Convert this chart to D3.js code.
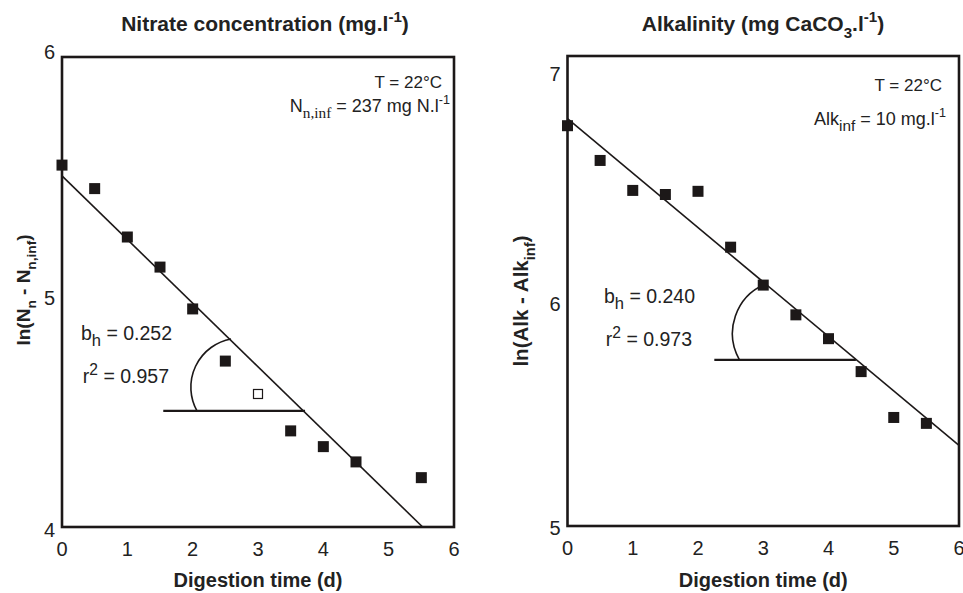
<!DOCTYPE html>
<html>
<head>
<meta charset="utf-8">
<script src="https://cdn.jsdelivr.net/npm/d3@7"></script>
<style>
  body { margin: 0; background: #fff; }
  svg { display: block; font-family: "Liberation Sans", Arial, sans-serif; }
</style>
</head>
<body>
<svg id="chart" width="963" height="593"></svg>
<script>
// Données
const xTicks = [0, 1, 2, 3, 4, 5, 6];

// Nitrate
const nitrateDays = [0, 0.5, 1, 1.5, 2, 2.5, 3.5, 4, 4.5, 5.5];
const nitrateLn = [5.54, 5.44, 5.234, 5.106, 4.928, 4.706, 4.409, 4.342, 4.277, 4.21];
const nitrateOpenDays = [3];
const nitrateOpenLn = [4.566];
const nitrateFitDays = [0, 5.52];
const nitrateFitLn = [5.494, 4.0];
const nitrateRefDays = [1.55, 3.72];
const nitrateRefLn = [4.494, 4.494];
const nitrateArcDays = [2.587, 2.066];
const nitrateArcLn = [4.8, 4.494];
const nitrateYTicks = [4, 5, 6];

// Alcalinité
const alkDays = [0, 0.5, 1, 1.5, 2, 2.5, 3, 3.5, 4, 4.5, 5, 5.5];
const alkLn = [6.763, 6.61, 6.478, 6.46, 6.474, 6.228, 6.061, 5.93, 5.825, 5.68, 5.478, 5.452];
const alkFitDays = [0, 6];
const alkFitLn = [6.794, 5.355];
const alkRefDays = [2.25, 4.42];
const alkRefLn = [5.732, 5.732];
const alkArcDays = [3.035, 2.635];
const alkArcLn = [6.066, 5.732];
const alkYTicks = [5, 6, 7];

const svg = d3.select('#chart');
const ink = '#1c1818';

// Texte avec indices / exposants
function rich(sel, parts, size) {
    let shift = 0;
    parts.forEach(([str, kind, family, scale]) => {
        const target = kind === 'sub' ? size * 0.32 : kind === 'sup' ? -size * 0.42 : 0;
        const t = sel.append('tspan').text(str).attr('dy', target - shift);
        if (kind === 'sub' || kind === 'sup') t.attr('font-size', size * (scale || 0.72));
        if (family) t.attr('font-family', family);
        shift = target;
    });
    return sel;
}

function zip(xs, ys) {
    return xs.map((x, i) => ({ x: x, y: ys[i] }));
}

function drawPanel(p) {
    const x = d3.scaleLinear().domain([0, 6]).range(p.xRange);
    const y = d3.scaleLinear().domain(p.yDomain).range(p.yRange);
    const g = svg.append('g');
    const line = d3.line().x(d => x(d.x)).y(d => y(d.y));

    // titre
    rich(g.append('text')
        .attr('x', p.titleX).attr('y', 31)
        .attr('text-anchor', 'middle')
        .attr('font-size', 21).attr('font-weight', 'bold').attr('fill', '#222'),
        p.title, 21);

    // graduations
    g.selectAll('.xt').data(xTicks).enter().append('text')
        .attr('x', d => x(d)).attr('y', p.yRange[0] + 29)
        .attr('text-anchor', 'middle').attr('font-size', 20).attr('fill', '#222')
        .text(d => d);
    g.selectAll('.yt').data(p.yTicks).enter().append('text')
        .attr('x', p.xRange[0] - 7).attr('y', (d, i) => y(d) + p.yTickDy[i])
        .attr('text-anchor', 'end').attr('font-size', 20).attr('fill', '#222')
        .text(d => d);

    // titres des axes
    g.append('text')
        .attr('x', (p.xRange[0] + p.xRange[1]) / 2).attr('y', 587)
        .attr('text-anchor', 'middle').attr('font-size', 20).attr('font-weight', 'bold').attr('fill', '#222')
        .text('Digestion time (d)');
    rich(g.append('text')
        .attr('transform', `translate(${p.yTitleX},${p.yTitleY}) rotate(-90)`)
        .attr('text-anchor', 'middle').attr('font-size', p.yTitleSize).attr('font-weight', 'bold').attr('fill', '#222'),
        p.yTitle, p.yTitleSize);

    // droite de régression
    g.append('path').datum(zip(p.fitX, p.fitY))
        .attr('d', line).attr('fill', 'none').attr('stroke', ink).attr('stroke-width', 1.6);
    // ligne horizontale
    g.append('path').datum(zip(p.refX, p.refY))
        .attr('d', line).attr('fill', 'none').attr('stroke', ink).attr('stroke-width', 2.2);
    // arc d'angle
    const a0 = [x(p.arcX[0]), y(p.arcY[0])];
    const a1 = [x(p.arcX[1]), y(p.arcY[1])];
    g.append('path')
        .attr('d', `M${a0[0]},${a0[1]} A${p.arcR},${p.arcR} 0 0 0 ${a1[0]},${a1[1]}`)
        .attr('fill', 'none').attr('stroke', ink).attr('stroke-width', 1.6);

    // points
    g.selectAll('.pt').data(zip(p.ptsX, p.ptsY)).enter().append('rect')
        .attr('x', d => x(d.x) - 5.5).attr('y', d => y(d.y) - 5.5)
        .attr('width', 11).attr('height', 11).attr('fill', ink);
    g.selectAll('.op').data(zip(p.openX, p.openY)).enter().append('rect')
        .attr('x', d => x(d.x) - 4.5).attr('y', d => y(d.y) - 4.5)
        .attr('width', 9).attr('height', 9).attr('fill', '#fff')
        .attr('stroke', ink).attr('stroke-width', 1.2);

    // cadre
    g.append('rect')
        .attr('x', p.xRange[0]).attr('y', p.yRange[1])
        .attr('width', p.xRange[1] - p.xRange[0]).attr('height', p.yRange[0] - p.yRange[1])
        .attr('fill', 'none').attr('stroke', ink).attr('stroke-width', 2.6);

    // annotations
    g.append('text')
        .attr('x', p.tX).attr('y', p.tY)
        .attr('text-anchor', 'end').attr('font-size', 17).attr('fill', '#222')
        .text('T = 22°C');
    rich(g.append('text')
        .attr('x', p.infX).attr('y', p.infY)
        .attr('text-anchor', 'end').attr('font-size', 18).attr('fill', '#222'),
        p.infText, 18);
    rich(g.append('text')
        .attr('x', p.statX).attr('y', p.bY)
        .attr('text-anchor', 'end').attr('font-size', 19.5).attr('fill', '#222'),
        [['b'], ['h', 'sub', null, 0.85], [' = ' + p.bh]], 19.5);
    rich(g.append('text')
        .attr('x', p.statX - 3).attr('y', p.rY)
        .attr('text-anchor', 'end').attr('font-size', 19.5).attr('fill', '#222'),
        [['r'], ['2', 'sup', null, 0.8], [' = ' + p.r2]], 19.5);
}

drawPanel({
    xRange: [62, 454], yRange: [527, 57], yDomain: [4, 6], yTicks: nitrateYTicks, yTickDy: [10, 13, 2],
    titleX: 265, title: [['Nitrate concentration (mg.l'], ['-1', 'sup'], [')']],
    yTitleX: 30, yTitleY: 290, yTitleSize: 19,
    yTitle: [['ln(N'], ['n', 'sub'], [' - N'], ['n,inf', 'sub'], [')']],
    ptsX: nitrateDays, ptsY: nitrateLn, openX: nitrateOpenDays, openY: nitrateOpenLn,
    fitX: nitrateFitDays, fitY: nitrateFitLn, refX: nitrateRefDays, refY: nitrateRefLn,
    arcX: nitrateArcDays, arcY: nitrateArcLn, arcR: 49,
    tX: 442, tY: 88, infX: 450, infY: 112,
    infText: [['N'], ['n,inf', 'sub', 'Liberation Serif', 0.85], [' = 237 mg N.l'], ['-1', 'sup', null, 0.7]],
    statX: 172, bY: 340, rY: 383, bh: '0.252', r2: '0.957'
});

drawPanel({
    xRange: [567.5, 959], yRange: [526, 56], yDomain: [5, 7.07], yTicks: alkYTicks, yTickDy: [9, 12, 9],
    titleX: 763, title: [['Alkalinity (mg CaCO'], ['3', 'sub'], ['.l'], ['-1', 'sup'], [')']],
    yTitleX: 528, yTitleY: 301, yTitleSize: 20.5,
    yTitle: [['ln(Alk - Alk'], ['inf', 'sub'], [')']],
    ptsX: alkDays, ptsY: alkLn, openX: [], openY: [],
    fitX: alkFitDays, fitY: alkFitLn, refX: alkRefDays, refY: alkRefLn,
    arcX: alkArcDays, arcY: alkArcLn, arcR: 53.5,
    tX: 942, tY: 91, infX: 946, infY: 125,
    infText: [['Alk'], ['inf', 'sub', null, 0.85], [' = 10 mg.l'], ['-1', 'sup', null, 0.7]],
    statX: 695, bY: 303, rY: 346, bh: '0.240', r2: '0.973'
});
</script>
</body>
</html>
